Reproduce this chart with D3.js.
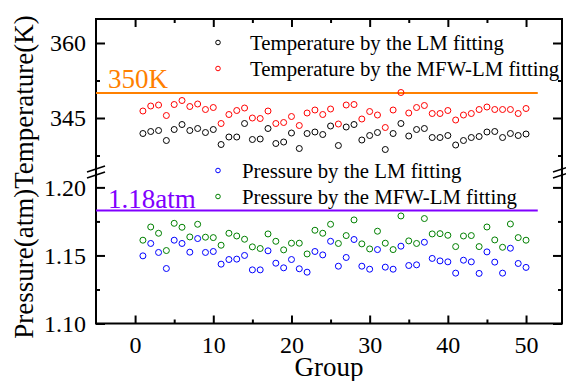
<!DOCTYPE html>
<html>
<head>
<meta charset="utf-8">
<script src="https://cdn.jsdelivr.net/npm/d3@7"></script>
<style>
  body { margin: 0; background: #fff; }
  text { font-family: "Liberation Serif", "Times New Roman", serif; }
</style>
</head>
<body>
<div id="chart"></div>
<script>
// group index on the x axis
const groups = [1, 2, 3, 4, 5, 6, 7, 8, 9, 10, 11, 12, 13, 14, 15, 16, 17, 18, 19, 20,
  21, 22, 23, 24, 25, 26, 27, 28, 29, 30, 31, 32, 33, 34, 35, 36, 37, 38, 39, 40,
  41, 42, 43, 44, 45, 46, 47, 48, 49, 50];

// temperature (K)
const tempLM = [341.9, 342.3, 342.5, 340.5, 342.7, 343.7, 342.5, 342.9, 342.1, 342.7,
  339.7, 341.2, 341.2, 343.9, 340.7, 340.8, 342.9, 339.9, 340.2, 342.0,
  338.9, 341.9, 342.2, 341.7, 343.4, 339.5, 343.2, 343.7, 340.6, 341.5,
  342.1, 338.7, 341.9, 343.9, 341.4, 342.7, 342.9, 341.1, 341.1, 341.5,
  339.6, 340.5, 341.1, 341.3, 342.2, 342.3, 341.1, 341.9, 341.5, 341.8];
const tempMFW = [346.4, 347.4, 347.6, 345.5, 347.7, 348.5, 347.3, 347.8, 346.7, 347.1,
  343.9, 345.7, 346.5, 347.0, 345.0, 344.9, 346.4, 343.9, 344.1, 345.3,
  343.5, 346.0, 346.6, 345.7, 346.8, 343.8, 347.6, 347.7, 344.8, 346.3,
  345.6, 343.1, 346.6, 350.1, 346.0, 347.1, 347.5, 345.9, 345.9, 346.5,
  344.6, 345.6, 345.9, 346.7, 347.2, 346.7, 346.7, 346.7, 345.9, 346.9];

// pressure (atm)
const presLM = [1.1497, 1.1588, 1.1522, 1.1404, 1.1612, 1.1588, 1.1524, 1.1624, 1.1522, 1.1529,
  1.1436, 1.1470, 1.1473, 1.1500, 1.1394, 1.1394, 1.1534, 1.1443, 1.1409, 1.1470,
  1.1402, 1.1377, 1.1529, 1.1504, 1.1604, 1.1421, 1.1485, 1.1617, 1.1421, 1.1399,
  1.1543, 1.1414, 1.1399, 1.1568, 1.1426, 1.1431, 1.1597, 1.1478, 1.1460, 1.1453,
  1.1370, 1.1465, 1.1453, 1.1368, 1.1526, 1.1451, 1.1370, 1.1553, 1.1441, 1.1412];
const presMFW = [1.1612, 1.1709, 1.1663, 1.1536, 1.1736, 1.1707, 1.1636, 1.1729, 1.1634, 1.1631,
  1.1575, 1.1663, 1.1643, 1.1619, 1.1563, 1.1551, 1.1658, 1.1604, 1.1541, 1.1590,
  1.1590, 1.1511, 1.1685, 1.1663, 1.1729, 1.1588, 1.1646, 1.1761, 1.1585, 1.1548,
  1.1678, 1.1590, 1.1543, 1.1790, 1.1607, 1.1588, 1.1771, 1.1658, 1.1660, 1.1648,
  1.1565, 1.1643, 1.1646, 1.1565, 1.1709, 1.1614, 1.1560, 1.1731, 1.1631, 1.1612];

// reference lines
const tempRef = 350, tempRefLabel = "350K";
const presRef = 1.183, presRefLabel = "1.18atm";
const refLineEnd = 51.5;

// ticks
const xTicks = [0, 10, 20, 30, 40, 50];
const xMinor = [5, 15, 25, 35, 45];
const tTicks = [345, 360];
const tMinor = [337.5, 352.5];
const pTicks = [1.10, 1.15, 1.20];
const pMinor = [1.125, 1.175];

const tempLegend = ["Temperature by the LM fitting", "Temperature by the MFW-LM fitting"];
const presLegend = ["Pressure by the LM fitting", "Pressure by the MFW-LM fitting"];

const width = 566, height = 381;
const pLeft = 96, pRight = 562, pTop = 19, pBottom = 323.5, breakY = 172;

const svg = d3.select("#chart").append("svg")
  .attr("width", width)
  .attr("height", height);

const x = d3.scaleLinear().domain([-5, 54.6]).range([pLeft, pRight]);
const yT = d3.scaleLinear().domain([334, 364.8]).range([173, pTop]);
const yB = d3.scaleLinear().domain([1.10, 1.2113]).range([pBottom, breakY]);

function clean(g) {
  g.select(".domain").remove();
  g.selectAll("line").attr("stroke", "#000").attr("stroke-width", 2);
  g.selectAll("text").attr("font-size", 24).attr("fill", "#000")
    .attr("font-family", "Liberation Serif, Times New Roman, serif");
}

// x axes (bottom + top mirror)
svg.append("g").attr("transform", "translate(0," + pBottom + ")")
  .call(d3.axisBottom(x).tickValues(xTicks).tickSizeInner(-8).tickSizeOuter(0).tickPadding(12))
  .call(clean);
svg.append("g").attr("transform", "translate(0," + pBottom + ")")
  .call(d3.axisBottom(x).tickValues(xMinor).tickSizeInner(-4).tickSizeOuter(0).tickFormat(""))
  .call(clean);
svg.append("g").attr("transform", "translate(0," + pTop + ")")
  .call(d3.axisTop(x).tickValues(xTicks).tickSizeInner(-8).tickSizeOuter(0).tickFormat(""))
  .call(clean);
svg.append("g").attr("transform", "translate(0," + pTop + ")")
  .call(d3.axisTop(x).tickValues(xMinor).tickSizeInner(-4).tickSizeOuter(0).tickFormat(""))
  .call(clean);

// y axes: left with labels, right mirrored
[[yT, tTicks, tMinor, d3.format("d")], [yB, pTicks, pMinor, d3.format(".2f")]].forEach(([s, maj, min, f]) => {
  svg.append("g").attr("transform", "translate(" + pLeft + ",0)")
    .call(d3.axisLeft(s).tickValues(maj).tickSizeInner(-9).tickSizeOuter(0).tickPadding(10).tickFormat(f))
    .call(clean);
  svg.append("g").attr("transform", "translate(" + pLeft + ",0)")
    .call(d3.axisLeft(s).tickValues(min).tickSizeInner(-4).tickSizeOuter(0).tickFormat(""))
    .call(clean);
  svg.append("g").attr("transform", "translate(" + pRight + ",0)")
    .call(d3.axisRight(s).tickValues(maj).tickSizeInner(-9).tickSizeOuter(0).tickFormat(""))
    .call(clean);
  svg.append("g").attr("transform", "translate(" + pRight + ",0)")
    .call(d3.axisRight(s).tickValues(min).tickSizeInner(-4).tickSizeOuter(0).tickFormat(""))
    .call(clean);
});

// frame
svg.append("rect")
  .attr("x", pLeft).attr("y", pTop)
  .attr("width", pRight - pLeft).attr("height", pBottom - pTop)
  .attr("fill", "none").attr("stroke", "#000").attr("stroke-width", 2);

// axis break marks
[pLeft, pRight].forEach(ax => {
  [-3, 3].forEach(off => {
    svg.append("line")
      .attr("x1", ax - 9).attr("y1", breakY + off + 3)
      .attr("x2", ax + 9).attr("y2", breakY + off - 3)
      .attr("stroke", "#000").attr("stroke-width", 1.5);
  });
});

// reference lines
svg.append("line")
  .attr("x1", x(-5)).attr("x2", x(refLineEnd))
  .attr("y1", yT(tempRef)).attr("y2", yT(tempRef))
  .attr("stroke", "#ff8000").attr("stroke-width", 2);
svg.append("text").attr("x", 108).attr("y", yT(tempRef) - 5)
  .attr("font-size", 27).attr("fill", "#ff8000").text(tempRefLabel);

svg.append("line")
  .attr("x1", x(-5)).attr("x2", x(refLineEnd))
  .attr("y1", yB(presRef)).attr("y2", yB(presRef))
  .attr("stroke", "#8000ff").attr("stroke-width", 2);
svg.append("text").attr("x", 108).attr("y", yB(presRef) - 3)
  .attr("font-size", 27).attr("fill", "#8000ff").text(presRefLabel);

// scatter series
const series = [
  { vals: tempLM, y: yT, color: "#000000" },
  { vals: tempMFW, y: yT, color: "#ff0000" },
  { vals: presLM, y: yB, color: "#0000ff" },
  { vals: presMFW, y: yB, color: "#008000" }
];
series.forEach(s => {
  svg.append("g").selectAll("circle")
    .data(groups)
    .enter()
    .append("circle")
    .attr("cx", (d) => x(d))
    .attr("cy", (d, i) => s.y(s.vals[i]))
    .attr("r", 3)
    .attr("fill", "none")
    .attr("stroke", s.color)
    .attr("stroke-width", 1);
});

// legends
function legend(items, colors, mx, tx, y0) {
  items.forEach((t, i) => {
    const cy = y0 + i * 26;
    svg.append("circle").attr("cx", mx).attr("cy", cy).attr("r", 2.3)
      .attr("fill", "none").attr("stroke", colors[i]).attr("stroke-width", 1);
    svg.append("text").attr("x", tx).attr("y", cy + 7)
      .attr("font-size", 20.8).attr("fill", "#000").text(t);
  });
}
legend(tempLegend, ["#000000", "#ff0000"], 218, 250, 42.5);
legend(presLegend, ["#0000ff", "#008000"], 218, 242, 170.5);

// axis titles
svg.append("text")
  .attr("x", (pLeft + pRight) / 2).attr("y", 376)
  .attr("text-anchor", "middle").attr("font-size", 27).text("Group");
svg.append("text")
  .attr("transform", "translate(33,177) rotate(-90)")
  .attr("text-anchor", "middle").attr("font-size", 27).text("Pressure(atm)Temperature(K)");
</script>
</body>
</html>
